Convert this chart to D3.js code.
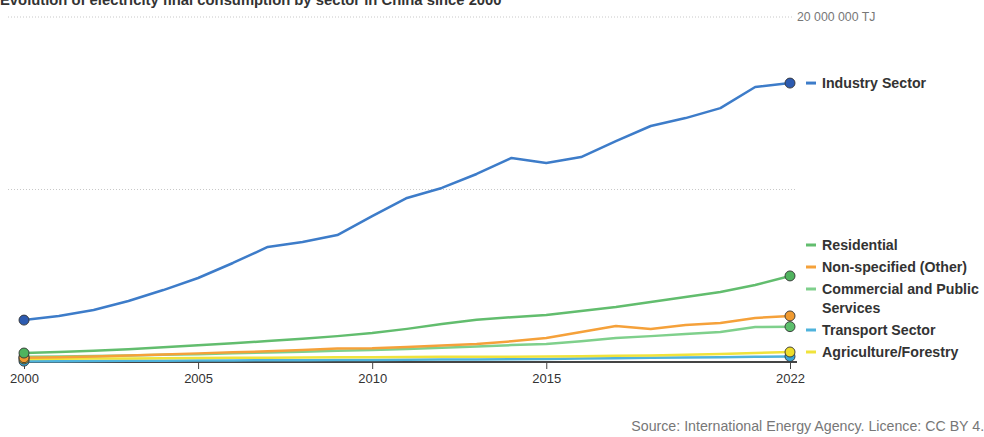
<!DOCTYPE html>
<html><head><meta charset="utf-8">
<script src="https://cdn.jsdelivr.net/npm/d3@7"></script>
<style>
html,body{margin:0;padding:0;background:#fff;}
svg{display:block;font-family:"Liberation Sans",Arial,sans-serif;}
</style></head>
<body>
<svg id="chart" width="984" height="437"></svg>
<script>
const years = d3.range(2000, 2023);
const tickYears = [2000, 2005, 2010, 2015, 2022];
const seriesNames = ["Industry Sector", "Residential", "Non-specified (Other)", "Commercial and Public Services", "Transport Sector", "Agriculture/Forestry"];
// values in million TJ
const industry = [2.43,2.67,3.01,3.54,4.17,4.87,5.74,6.67,6.96,7.36,8.46,9.51,10.09,10.9,11.83,11.54,11.88,12.81,13.68,14.14,14.72,15.94,16.17];
const residential = [0.52,0.58,0.65,0.74,0.85,0.97,1.08,1.22,1.35,1.5,1.68,1.92,2.2,2.45,2.6,2.72,2.96,3.19,3.48,3.77,4.06,4.46,4.99];
const nonSpecified = [0.25,0.28,0.32,0.38,0.44,0.5,0.56,0.62,0.7,0.78,0.8,0.87,0.95,1.05,1.2,1.39,1.74,2.09,1.91,2.14,2.26,2.55,2.67];
const commercial = [0.3,0.32,0.35,0.38,0.42,0.45,0.5,0.55,0.6,0.65,0.7,0.76,0.83,0.9,0.98,1.04,1.2,1.39,1.5,1.62,1.74,2.03,2.05];
const transport = [0.05,0.05,0.06,0.07,0.07,0.08,0.09,0.1,0.1,0.11,0.12,0.13,0.14,0.15,0.16,0.18,0.2,0.22,0.24,0.26,0.27,0.3,0.32];
const agriculture = [0.18,0.19,0.2,0.21,0.22,0.23,0.24,0.25,0.26,0.27,0.28,0.29,0.3,0.3,0.31,0.32,0.34,0.36,0.38,0.42,0.47,0.52,0.58];
const gridValues = [10, 20];
const gridLabels = {20: "20 000 000 TJ"};

const lineColors = ["#3d7cc9", "#62bd6e", "#f5a13a", "#7fd08c", "#4fb3dc", "#f0e33c"];
const dotColors  = ["#2d5bb0", "#4fb35e", "#f09a30", "#5cbf6c", "#3aa5d6", "#eedd2a"];
const legendLabels = [["Industry Sector"], ["Residential"], ["Non-specified (Other)"], ["Commercial and Public", "Services"], ["Transport Sector"], ["Agriculture/Forestry"]];
const allValues = [industry, residential, nonSpecified, commercial, transport, agriculture];

const svg = d3.select("#chart");
const x = d3.scaleLinear().domain([2000, 2022]).range([24, 790]);
const y = d3.scaleLinear().domain([0, 20]).range([362, 17]);

// title
svg.append("text").attr("x", 0).attr("y", 5).attr("font-size", 14.8).attr("font-weight", "bold")
  .attr("fill", "#333").text("Evolution of electricity final consumption by sector in China since 2000");

// gridlines
gridValues.forEach(v => {
  svg.append("line").attr("x1", 8).attr("x2", gridLabels[v] ? 792 : 797)
    .attr("y1", y(v)).attr("y2", y(v))
    .attr("stroke", "#c8c8c8").attr("stroke-width", 1).attr("stroke-dasharray", "1,2");
  if (gridLabels[v]) {
    svg.append("text").attr("x", 797).attr("y", y(v)).attr("dy", "0.35em")
      .attr("font-size", 12.3).attr("fill", "#777").text(gridLabels[v]);
  }
});

// x axis
const xAxis = d3.axisBottom(x).tickValues(tickYears).tickFormat(d3.format("d")).tickSize(7).tickSizeOuter(0);
const gx = svg.append("g").attr("transform", `translate(0,${y(0)})`).call(xAxis);
gx.select(".domain").attr("stroke", "#444").attr("stroke-width", 2).attr("d", `M19,0H797`);
gx.selectAll(".tick line").attr("stroke", "#444");
gx.selectAll(".tick text").attr("font-size", 13).attr("fill", "#333").attr("font-family", "Liberation Sans, Arial, sans-serif").attr("dy", "0.85em");

// lines
const line = d3.line().x((d, i) => x(years[i])).y(d => y(d));
const drawOrder = [4, 5, 3, 2, 1, 0];
drawOrder.forEach(k => {
  svg.append("path").datum(allValues[k]).attr("d", line).attr("fill", "none")
    .attr("stroke", lineColors[k]).attr("stroke-width", 2.5).attr("stroke-linejoin", "round");
});
// end dots
drawOrder.forEach(k => {
  const vals = allValues[k];
  [0, vals.length - 1].forEach(i => {
    svg.append("circle").attr("cx", x(years[i])).attr("cy", y(vals[i])).attr("r", 5)
      .attr("fill", dotColors[k]).attr("stroke", "#333").attr("stroke-width", 0.9);
  });
});

// legend: stacked from the bottom in series order, pushed up to avoid overlap
const lineH = 19, gap = 22;
const labelY = {};
let prevY = null;
for (let k = allValues.length - 1; k >= 0; k--) {
  const target = y(allValues[k][allValues[k].length - 1]);
  const nLines = legendLabels[k].length;
  let ly = target;
  if (prevY !== null) ly = Math.min(target, prevY - gap - (nLines - 1) * lineH);
  labelY[k] = ly;
  prevY = ly;
}
allValues.forEach((v, k) => {
  const ly = labelY[k];
  svg.append("line").attr("x1", 806).attr("x2", 816).attr("y1", ly).attr("y2", ly)
    .attr("stroke", lineColors[k]).attr("stroke-width", 3);
  legendLabels[k].forEach((t, j) => {
    svg.append("text").attr("x", 822).attr("y", ly + j * lineH).attr("dy", "0.35em")
      .attr("font-size", 14.2).attr("font-weight", "bold").attr("fill", "#333").text(t);
  });
});

// source
svg.append("text").attr("x", 992).attr("y", 431).attr("text-anchor", "end")
  .attr("font-size", 14.2).attr("fill", "#777").text("Source: International Energy Agency. Licence: CC BY 4.0");
</script>
</body></html>
